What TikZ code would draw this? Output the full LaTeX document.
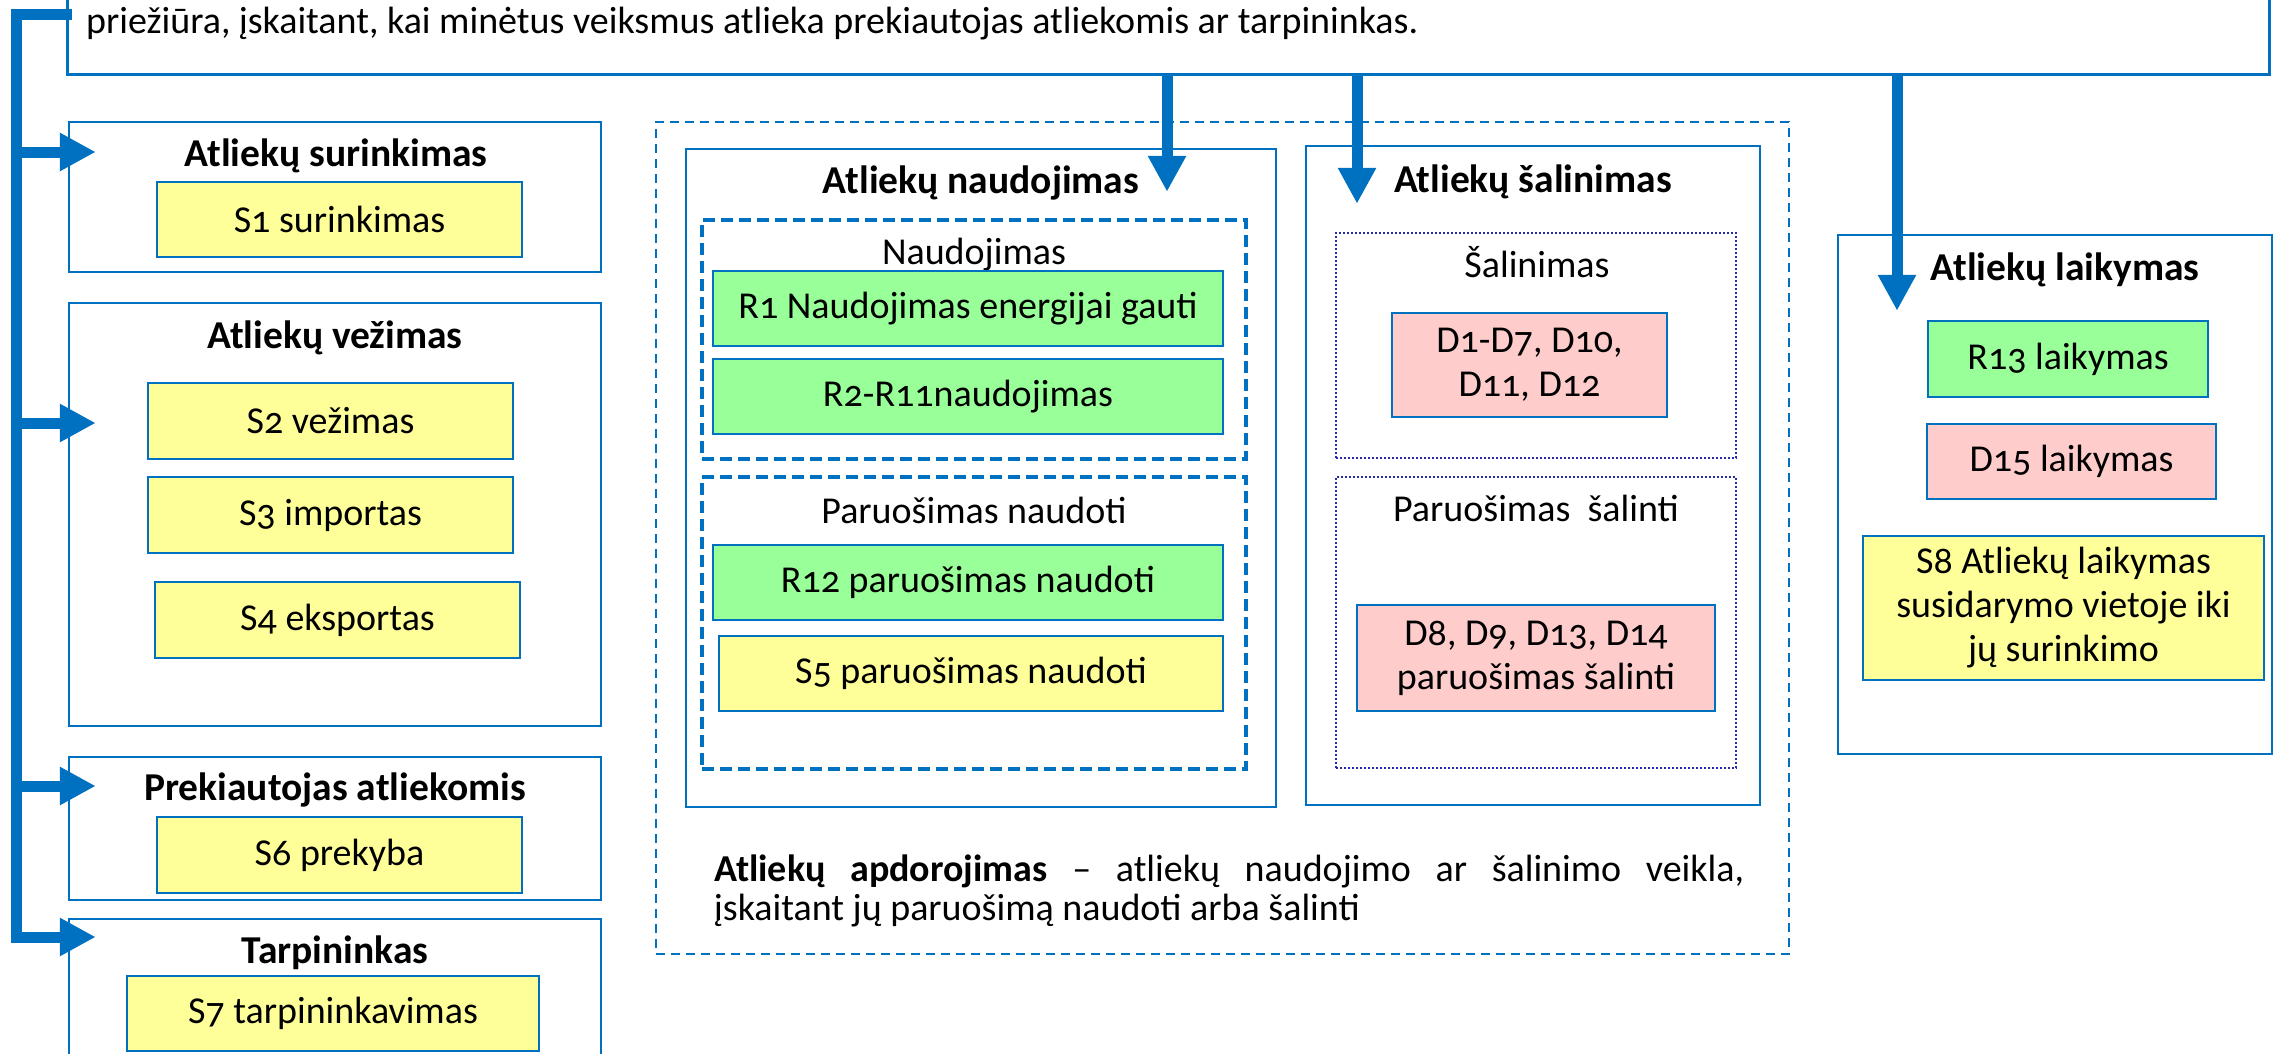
\documentclass[tikz,border=0pt]{standalone}
\usepackage{fontspec}
\setmainfont{Carlito}[Numbers=OldStyle]
\usetikzlibrary{arrows.meta,calc}
\definecolor{bl}{HTML}{0070C0}
\definecolor{yel}{HTML}{FFFF99}
\definecolor{grn}{HTML}{99FF99}
\definecolor{pnk}{HTML}{FFCCCC}
\definecolor{navy}{RGB}{40,40,170}
\newcommand\fs{\fontsize{38}{44}\selectfont}
\newcommand\fsb{\fontsize{39.5}{44}\selectfont\bfseries}
\tikzset{
  frame/.style={draw=bl, line width=2.5pt, fill=white, inner sep=0pt},
  opbox/.style={draw=bl, line width=2.5pt, inner sep=0pt, align=center, font=\fs},
  ybox/.style={opbox, fill=yel},
  gbox/.style={opbox, fill=grn},
  pbox/.style={opbox, fill=pnk},
  grpdash/.style={draw=bl, line width=4.5pt, dash pattern=on 12pt off 6pt, inner sep=0pt},
  grpdot/.style={draw=navy, line width=1.8pt, dash pattern=on 2pt off 2pt, inner sep=0pt},
  outer/.style={draw=bl, line width=2pt, dash pattern=on 9pt off 6pt, inner sep=0pt},
  ttl/.style={anchor=base, inner sep=0pt, font=\fsb},
  lbl/.style={anchor=base, inner sep=0pt, font=\fs},
  arr/.style={draw=bl, line width=11pt, -{Triangle[length=36pt,width=36pt]}},
  bar/.style={draw=bl, line width=11pt, line join=miter, line cap=rect},
}
\begin{document}
\begin{tikzpicture}[x=1pt,y=-1pt]
\useasboundingbox (0,0) rectangle (2274,1054);
% top box
\node[frame, minimum width=2202pt, minimum height=120pt, anchor=south west] (top) at (66,76) {};
\node[anchor=base west, inner sep=0pt, font=\fs] (toptxt) at (86,34) {priežiūra, įskaitant, kai minėtus veiksmus atlieka prekiautojas atliekomis ar tarpininkas.};

% left column
\node[frame, minimum width=532pt, minimum height=150pt] (sur) at (335,197) {};
\node[ttl] (surt) at (336,166) {Atliekų surinkimas};
\node[ybox, minimum width=365pt, minimum height=75pt] (s1) at (339.5,219.5) {S1 surinkimas};

\node[frame, minimum width=532pt, minimum height=423pt] (vez) at (335,514.5) {};
\node[ttl] (vezt) at (335,348) {Atliekų vežimas};
\node[ybox, minimum width=365pt, minimum height=76pt] (s2) at (330.5,421) {S2 vežimas};
\node[ybox, minimum width=365pt, minimum height=76pt] (s3) at (330.5,515) {S3 importas};
\node[ybox, minimum width=365pt, minimum height=76pt] (s4) at (337.5,620) {S4 eksportas};

\node[frame, minimum width=532pt, minimum height=143pt] (prek) at (335,828.5) {};
\node[ttl] (prekt) at (335,800) {Prekiautojas atliekomis};
\node[ybox, minimum width=365pt, minimum height=76pt] (s6) at (339.5,855) {S6 prekyba};

\node[frame, minimum width=532pt, minimum height=161pt] (tarp) at (335,999.5) {};
\node[ttl] (tarpt) at (335,963) {Tarpininkas};
\node[ybox, minimum width=412pt, minimum height=75pt] (s7) at (333,1013.5) {S7 tarpininkavimas};

% processing (dashed outer)
\node[outer, minimum width=1133pt, minimum height=832pt] (apd) at (1222.5,538) {};

\node[frame, minimum width=590pt, minimum height=658pt] (naud) at (981,478) {};
\node[ttl] (naudt) at (981,193) {Atliekų naudojimas};
\node[grpdash, minimum width=544pt, minimum height=239pt] (g1) at (974,339.5) {};
\node[lbl] (g1t) at (974,264) {Naudojimas};
\node[gbox, minimum width=510pt, minimum height=75pt] (r1) at (968,308.5) {R1 Naudojimas energijai gauti};
\node[gbox, minimum width=510pt, minimum height=75pt] (r2) at (968,396.5) {R2-R11naudojimas};
\node[grpdash, minimum width=544pt, minimum height=292pt] (g2) at (974,623) {};
\node[lbl] (g2t) at (974,523) {Paruošimas naudoti};
\node[gbox, minimum width=510pt, minimum height=75pt] (r12) at (968,582.5) {R12 paruošimas naudoti};
\node[ybox, minimum width=504pt, minimum height=75pt] (s5) at (971,673.5) {S5 paruošimas naudoti};

\node[frame, minimum width=454pt, minimum height=659pt] (sal) at (1533,475.5) {};
\node[ttl] (salt) at (1533,192) {Atliekų šalinimas};
\node[grpdot, minimum width=400pt, minimum height=225pt] (h1) at (1536,345.5) {};
\node[lbl] (h1t) at (1537,277) {Šalinimas};
\node[pbox, minimum width=275pt, minimum height=104pt] (d1) at (1529.5,365) {D1-D7, D10,\\D11, D12};
\node[grpdot, minimum width=400pt, minimum height=291pt] (h2) at (1536,622.5) {};
\node[lbl] (h2t) at (1536,521) {Paruošimas\ \ šalinti};
\node[pbox, minimum width=358pt, minimum height=106pt] (d8) at (1536,658) {D8, D9, D13, D14\\paruošimas šalinti};

\node[anchor=base west, inner sep=0pt, font=\fs] (apd1) at (714,881) {\makebox[1030pt][s]{\textbf{Atliekų apdorojimas} – atliekų naudojimo ar šalinimo veikla,}};
\node[anchor=base west, inner sep=0pt, font=\fs] (apd2) at (714,920) {įskaitant jų paruošimą naudoti arba šalinti};

% storage
\node[frame, minimum width=434pt, minimum height=519pt] (laik) at (2055,494.5) {};
\node[ttl] (laikt) at (2065,280) {Atliekų laikymas};
\node[gbox, minimum width=280pt, minimum height=76pt] (r13) at (2068,359) {R13 laikymas};
\node[pbox, minimum width=289pt, minimum height=75pt] (d15) at (2071.5,461.5) {D15 laikymas};
\node[ybox, minimum width=401pt, minimum height=144pt] (s8) at (2063.5,608) {S8 Atliekų laikymas\\susidarymo vietoje iki\\jų surinkimo};

% connectors from the top box
\coordinate (xa) at (1167,0);
\coordinate (xb) at (1357,0);
\coordinate (xc) at (1897,0);
\draw[arr] (xa |- top.south) -- ([yshift=-44pt]xa |- naud.north);
\draw[arr] (xb |- top.south) -- ([yshift=-59pt]xb |- sal.north);
\draw[arr] (xc |- top.south) -- ([yshift=-77pt]xc |- laik.north);

% left bar
\coordinate (b0) at (16,15);
\coordinate (b1) at (16,152);
\coordinate (b2) at (16,423);
\coordinate (b3) at (16,786);
\coordinate (b4) at (16,937);
\draw[bar] (b0 -| top.west) -- (b0) -- (b4);
\draw[arr] (b1) -- ([xshift=28pt]b1 -| sur.west);
\draw[arr] (b2) -- ([xshift=28pt]b2 -| vez.west);
\draw[arr] (b3) -- ([xshift=28pt]b3 -| prek.west);
\draw[arr] (b4) -- ([xshift=28pt]b4 -| tarp.west);
\end{tikzpicture}
\end{document}
